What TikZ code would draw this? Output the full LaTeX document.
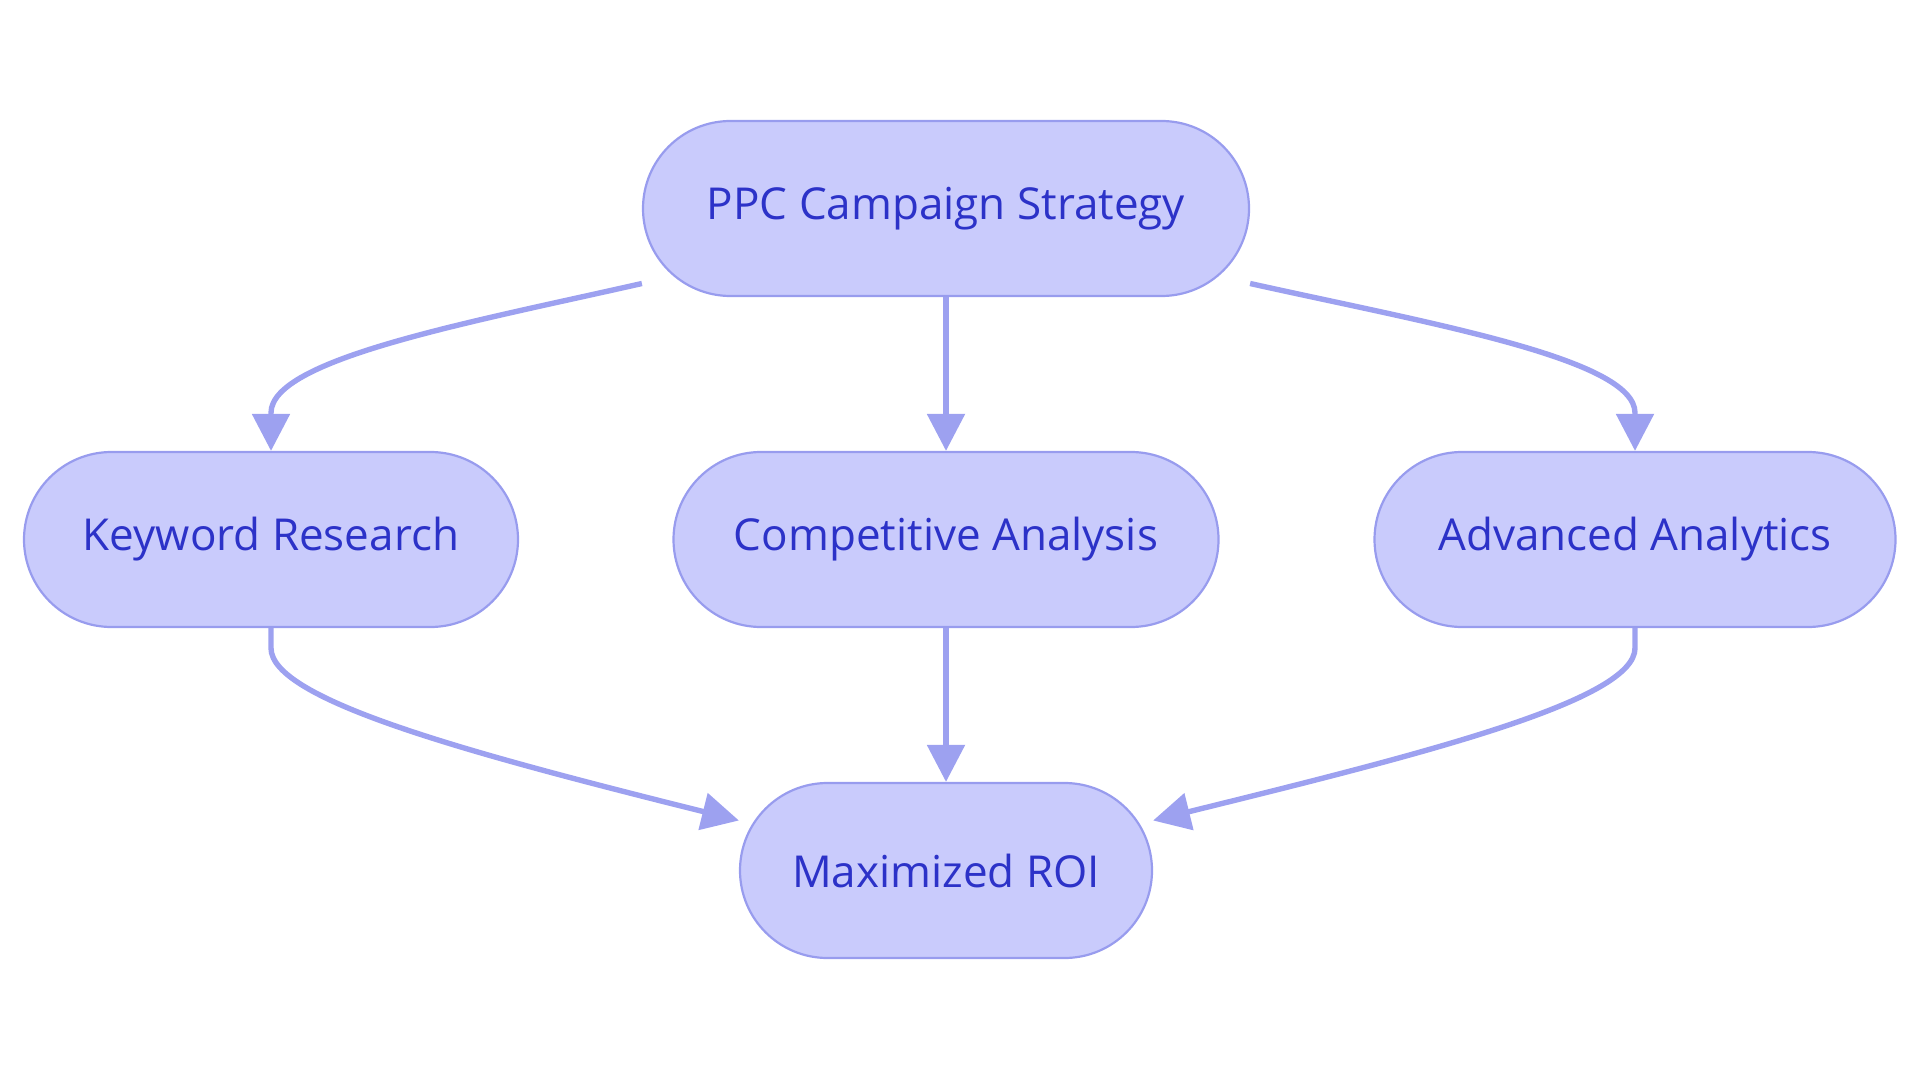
\documentclass[tikz,border=0pt]{standalone}
\usepackage{fontspec}
\setmainfont{Open Sans}
\usetikzlibrary{shapes.misc,arrows.meta,calc}
\definecolor{boxfill}{RGB}{201,203,252}
\definecolor{boxline}{RGB}{152,156,238}
\definecolor{edgecol}{RGB}{157,161,240}
\definecolor{txtcol}{RGB}{44,50,200}
\tikzset{
  stadium/.style={rounded rectangle, draw=boxline, fill=boxfill, line width=2.2pt,
    minimum height=175pt, inner sep=0pt, text=txtcol,
    font=\fontsize{44}{52}\selectfont},
  edge/.style={draw=edgecol, line width=5.4pt,
    -{Triangle[length=37pt,width=37pt]}},
}
\begin{document}
\begin{tikzpicture}[x=1pt,y=-1pt]
\useasboundingbox (0,0) rectangle (1920,1083);
\node[stadium, minimum width=606pt] (ppc) at (946,208.5) {PPC Campaign Strategy};
\node[stadium, minimum width=494pt] (kw) at (271,539.5) {Keyword Research};
\node[stadium, minimum width=545pt] (ca) at (946,539.5) {Competitive Analysis};
\node[stadium, minimum width=521pt] (adv) at (1635,539.5) {Advanced Analytics};
\node[stadium, minimum width=412pt] (roi) at (946,870.5) {Maximized ROI};

\draw[edge] ($(ppc.west)+(0,75)$) .. controls +(-172,39) and +(0,-54) .. ($(kw.north)+(0,-38)$) -- (kw.north);
\draw[edge] ($(ppc.east)+(0,75)$) .. controls +(180,40) and +(0,-54) .. ($(adv.north)+(0,-38)$) -- (adv.north);
\draw[edge] (ppc.south) -- (ca.north);
\draw[edge] (ca.south) -- (roi.north);
\draw[edge] (kw.south) -- ++(0,20) .. controls +(0,52) and +(-268,-67) .. ($(roi.west)+(0,-50)$);
\draw[edge] (adv.south) -- ++(0,20) .. controls +(0,52) and +(276,-68) .. ($(roi.east)+(0,-50)$);
\end{tikzpicture}
\end{document}
